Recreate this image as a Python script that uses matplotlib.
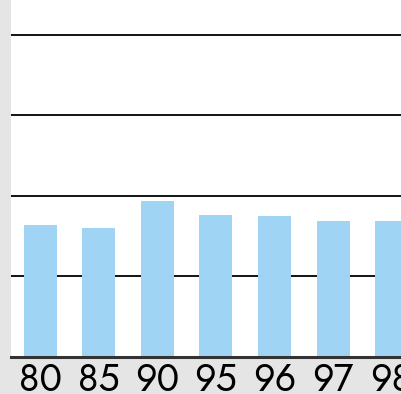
import matplotlib.pyplot as plt

# Kategorie (lata) i wartości słupków
years = ["80", "85", "90", "95", "96", "97", "98"]
values = [16.4, 16.0, 19.4, 17.6, 17.5, 16.9, 16.9]
grid_levels = [10, 20, 30, 40]

fig = plt.figure(figsize=(4.01, 3.94), dpi=100, facecolor="#e5e5e5")
ax = fig.add_axes([11 / 401, 37 / 394, 1 - 11 / 401, 357 / 394])
ax.set_facecolor("white")

# linie siatki pod słupkami
for g in grid_levels:
    ax.axhline(g, color="black", lw=1.3, zorder=1)

x = range(len(years))
ax.bar(x, values, width=0.565, color="#9fd4f5", zorder=2)
ax.axhline(0, color="#333333", lw=2.2, zorder=3, clip_on=False)

ax.set_xlim(-0.5, 6.16)
ax.set_ylim(0, 44.3)
ax.set_yticks([])
ax.set_xticks(list(x))
ax.set_xticklabels(years, family=["Jost", "Liberation Sans Narrow", "DejaVu Sans"], fontsize=27)
ax.tick_params(axis="x", length=0, pad=3)
for s in ax.spines.values():
    s.set_visible(False)

fig.savefig("out.png", dpi=100, facecolor=fig.get_facecolor())
